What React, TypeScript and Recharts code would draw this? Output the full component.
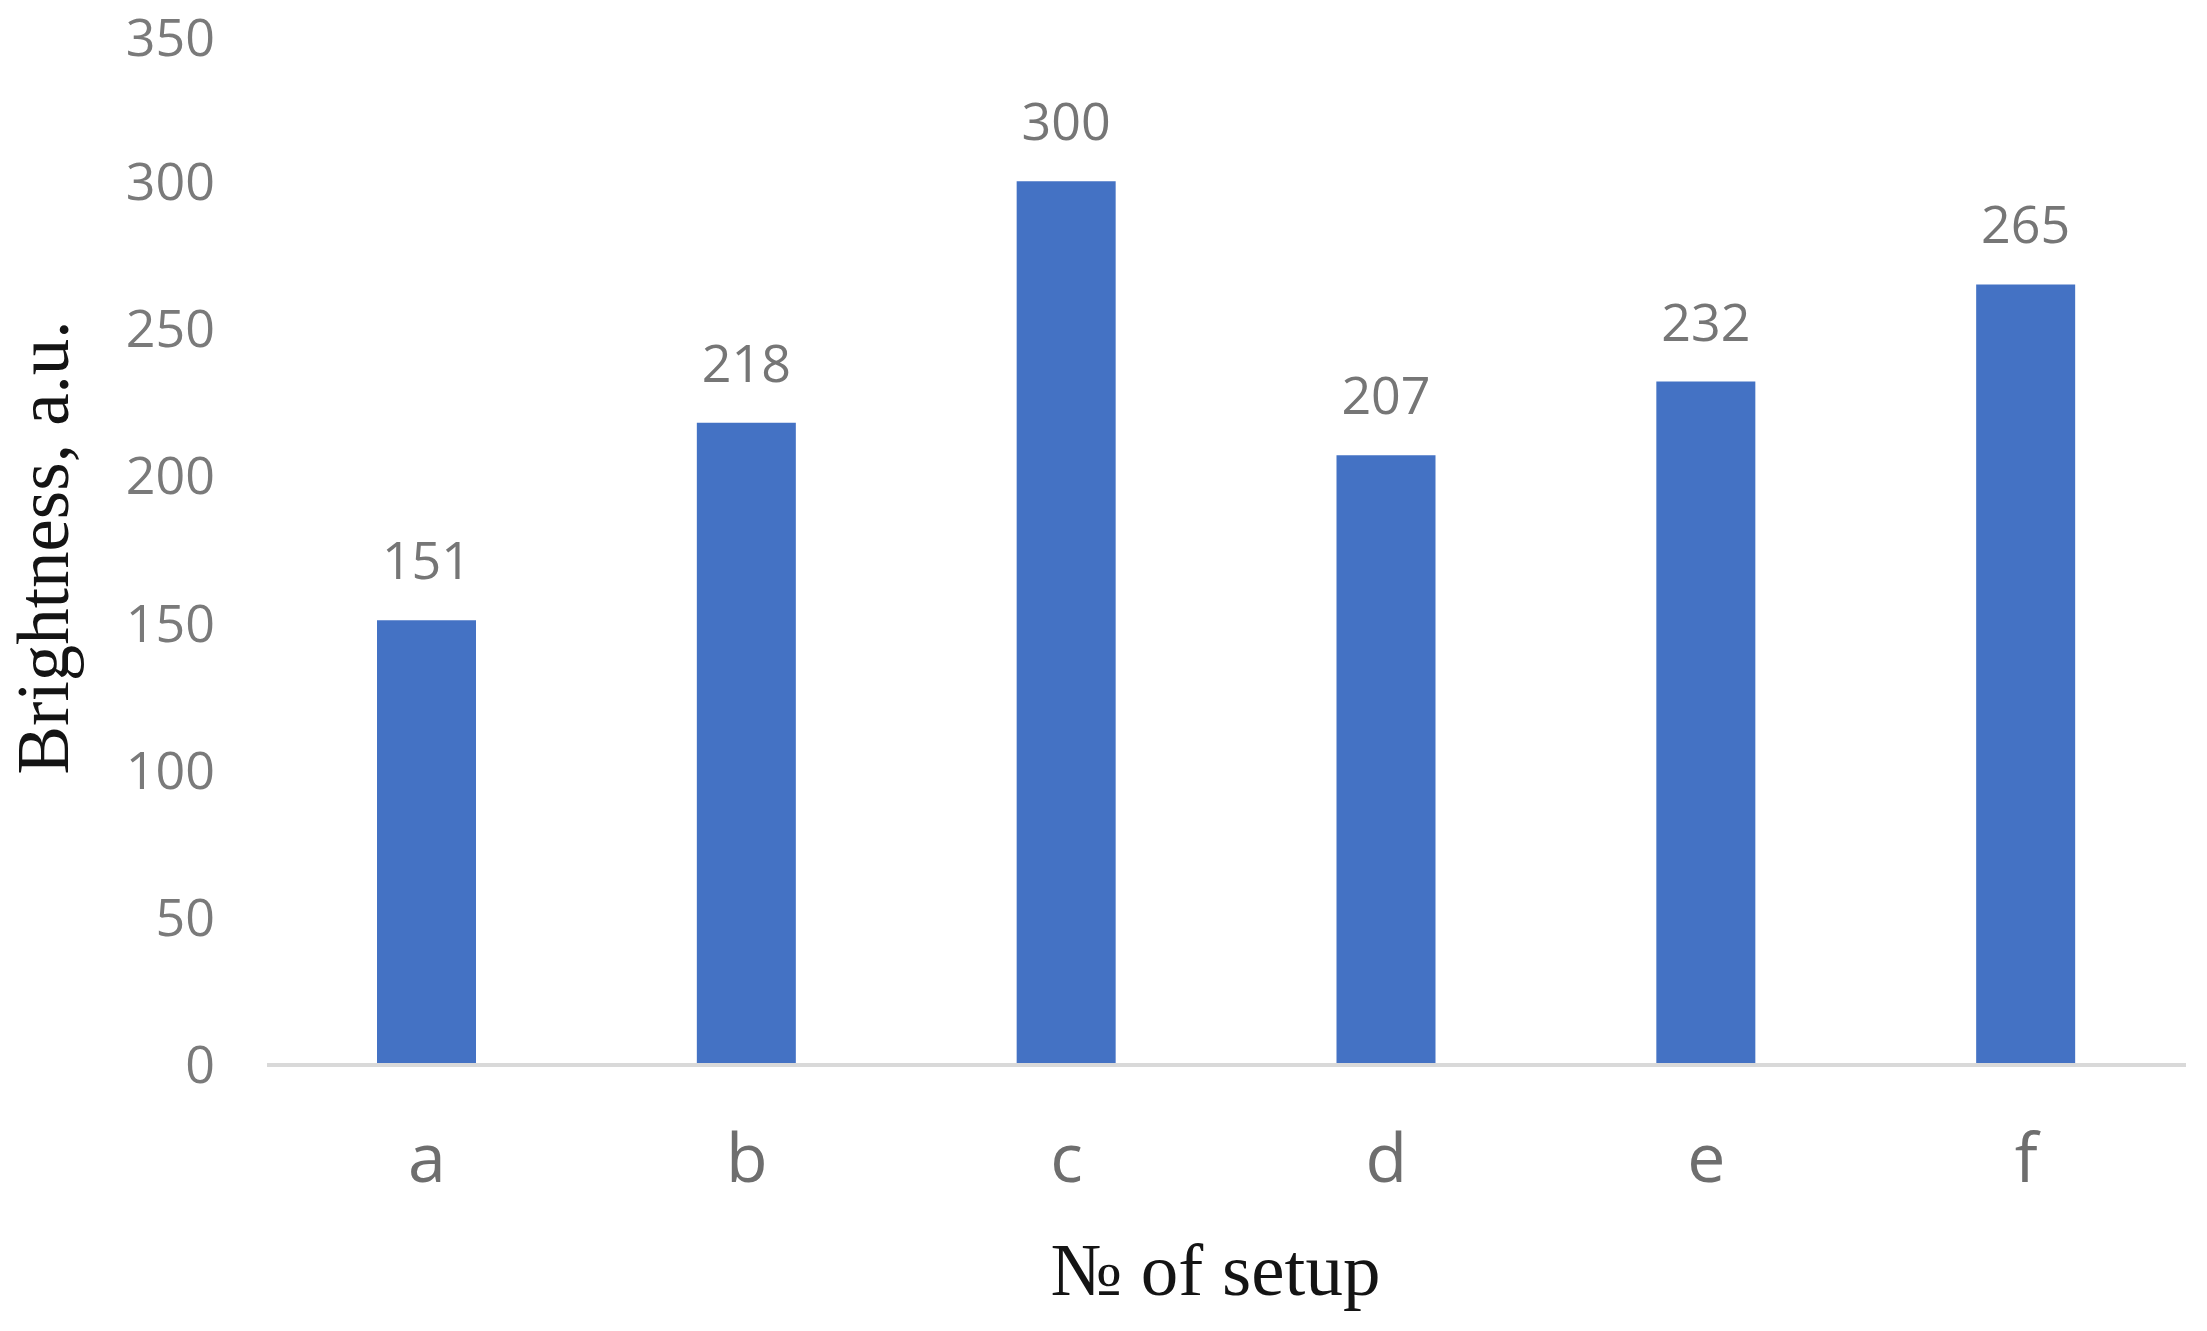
import React from 'react';
import { BarChart, Bar, XAxis, YAxis, LabelList } from 'recharts';

const categories = ['a', 'b', 'c', 'd', 'e', 'f'];
const brightness = [151, 218, 300, 207, 232, 265];
const yTicks = [0, 50, 100, 150, 200, 250, 300, 350];

const data = categories.map((c, i) => ({ setup: c, brightness: brightness[i] }));

const SANS = "'Open Sans', 'Noto Sans', sans-serif";
const SERIF = "'Liberation Serif', 'DejaVu Serif', serif";

const XTick = (props: any) => {
  const { x, y, payload } = props;
  return (
    <text x={x} y={y + 117} textAnchor="middle" fontFamily={SANS} fontSize={68} fill="#6e6e6e">
      {payload.value}
    </text>
  );
};

const DataLabel = (props: any) => {
  const { x, y, width, value } = props;
  return (
    <text x={x + width / 2} y={y - 41} textAnchor="middle" fontFamily={SANS} fontSize={52} fill="#767676">
      {value}
    </text>
  );
};

const YTitle = (props: any) => {
  const vb = props.viewBox || {};
  const cx = 60;
  const cy = vb.y + vb.height / 2 - 2;
  return (
    <text
      x={cx}
      y={cy}
      transform={`rotate(-90, ${cx}, ${cy})`}
      textAnchor="middle"
      fontFamily={SERIF}
      fontSize={73}
      fill="#141414"
    >
      Brightness, a.u.
    </text>
  );
};

const XTitle = (props: any) => {
  const vb = props.viewBox || {};
  const cx = vb.x + vb.width / 2 - 11;
  const cy = vb.y + 230;
  return (
    <text x={cx} y={cy} textAnchor="middle" fontFamily={SERIF} fontSize={75} fill="#141414">
      № of setup
    </text>
  );
};

export default function App() {
  return (
    <div style={{ width: 2191, height: 1315, background: '#ffffff' }}>
      <BarChart
        width={2191}
        height={1315}
        data={data}
        margin={{ top: 26, right: 13, left: 0, bottom: 0 }}
      >
        <XAxis
          dataKey="setup"
          height={258}
          axisLine={{ stroke: '#d9d9d9', strokeWidth: 4 }}
          tickLine={false}
          tickSize={0}
          tickMargin={0}
          interval={0}
          tick={<XTick />}
          label={{ content: (p: any) => <XTitle {...p} /> }}
        />
        <YAxis
          width={259}
          domain={[0, 350]}
          ticks={yTicks}
          axisLine={false}
          tickLine={false}
          tickSize={0}
          tickMargin={52}
          tick={{ fill: '#7a7a7a', fontSize: 52, fontFamily: SANS }}
          label={{ content: (p: any) => <YTitle {...p} /> }}
        />
        <Bar dataKey="brightness" fill="#4472C4" barSize={99} isAnimationActive={false}>
          <LabelList dataKey="brightness" content={(p: any) => <DataLabel {...p} />} />
        </Bar>
      </BarChart>
    </div>
  );
}
